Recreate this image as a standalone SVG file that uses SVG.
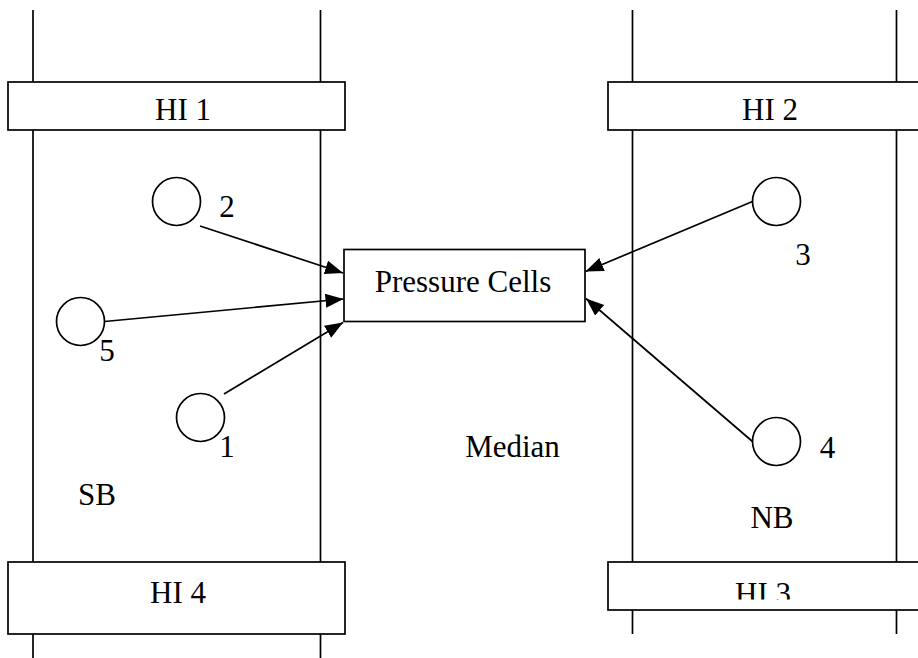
<svg xmlns="http://www.w3.org/2000/svg" width="918" height="658" viewBox="0 0 918 658">
  <style>
    .ln { stroke: #000; stroke-width: 1.7; fill: none; }
    .box { stroke: #000; stroke-width: 1.7; fill: #fff; }
    .c { stroke: #000; stroke-width: 1.7; fill: #fff; }
    .t { font-family: "Liberation Serif", "Times New Roman", serif; font-size: 31px; fill: #000; }
    .m { text-anchor: middle; }
    .ar { stroke: #000; stroke-width: 1.7; fill: none; marker-end: url(#ah); }
  </style>
  <defs>
    <marker id="ah" markerUnits="userSpaceOnUse" markerWidth="19" markerHeight="15" refX="18" refY="7" orient="auto">
      <path d="M0,0 L18,7 L0,14 z" fill="#000"/>
    </marker>
    <clipPath id="clip3"><rect x="600" y="560" width="318" height="39.5"/></clipPath>
  </defs>
  <rect width="918" height="658" fill="#fff"/>

  <g id="lanes">
    <line class="ln" x1="33" y1="10" x2="33" y2="658"/>
    <line class="ln" x1="320.5" y1="10" x2="320.5" y2="658"/>
    <line class="ln" x1="632.5" y1="10" x2="632.5" y2="634"/>
    <line class="ln" x1="896.5" y1="10" x2="896.5" y2="634"/>
  </g>

  <g id="hi1">
    <rect class="box" x="8" y="82" width="337" height="48"/>
    <text class="t m" x="183" y="120">HI 1</text>
  </g>
  <g id="hi2">
    <rect class="box" x="608" y="82" width="320" height="48"/>
    <text class="t m" x="770" y="120">HI 2</text>
  </g>
  <g id="hi4">
    <rect class="box" x="8" y="562" width="337" height="72"/>
    <text class="t m" x="178" y="603">HI 4</text>
  </g>
  <g id="hi3">
    <rect class="box" x="608" y="562" width="320" height="48"/>
    <text class="t m" x="763" y="604" clip-path="url(#clip3)">HI 3</text>
  </g>

  <g id="pressure-cells">
    <rect class="box" x="344" y="249.5" width="241" height="72"/>
    <text class="t m" x="463" y="291.5">Pressure Cells</text>
  </g>

  <g id="cell2">
    <circle class="c" cx="176.5" cy="201.5" r="24"/>
    <text class="t m" x="227" y="217">2</text>
  </g>
  <g id="cell5">
    <circle class="c" cx="80.5" cy="321.5" r="24"/>
    <text class="t m" x="107" y="361">5</text>
  </g>
  <g id="cell1">
    <circle class="c" cx="200.5" cy="417.5" r="24"/>
    <text class="t m" x="227" y="456.5">1</text>
  </g>
  <g id="cell3">
    <circle class="c" cx="776.5" cy="201.5" r="24"/>
    <text class="t m" x="803" y="265">3</text>
  </g>
  <g id="cell4">
    <circle class="c" cx="776.5" cy="441.5" r="24"/>
    <text class="t m" x="827.5" y="458">4</text>
  </g>

  <g id="labels">
    <text class="t m" x="512.5" y="457">Median</text>
    <text class="t m" x="97" y="505">SB</text>
    <text class="t m" x="772" y="528">NB</text>
  </g>

  <g id="connectors">
    <line class="ar" x1="200" y1="226" x2="343" y2="273"/>
    <line class="ar" x1="104.5" y1="321.5" x2="343.5" y2="299"/>
    <line class="ar" x1="224" y1="394" x2="343" y2="322.5"/>
    <line class="ar" x1="752.5" y1="201.5" x2="585.5" y2="271.5"/>
    <line class="ar" x1="752.5" y1="441.5" x2="586" y2="298.5"/>
  </g>
</svg>
